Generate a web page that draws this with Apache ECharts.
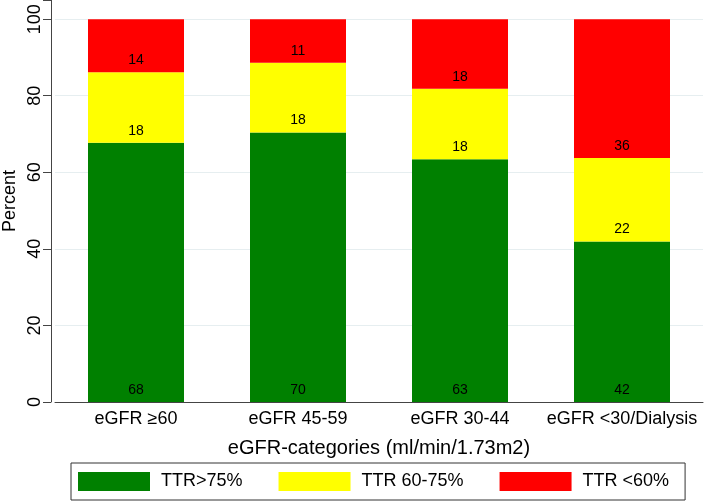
<!DOCTYPE html>
<html>
<head>
<meta charset="utf-8">
<script src="https://cdn.jsdelivr.net/npm/echarts@6/dist/echarts.min.js"></script>
<style>
html,body{margin:0;padding:0;background:#fff;}
#chart{width:709px;height:502px;}
</style>
</head>
<body>
<div id="chart"></div>
<script>
var categories = ['eGFR \u226560', 'eGFR 45-59', 'eGFR 30-44', 'eGFR <30/Dialysis'];
var seriesNames = ['TTR>75%', 'TTR 60-75%', 'TTR <60%'];
var ttrAbove75 = [67.7, 70.4, 63.4, 41.9];
var ttr60to75 = [18.4, 18.2, 18.4, 21.8];
var ttrBelow60 = [13.9, 11.4, 18.2, 36.3];
var yTickInterval = 20;
var yMaxLabel = 100;

var FONT = 'Liberation Sans, Arial, Helvetica, sans-serif';
var colors = ['#008000', '#ffff00', '#ff0000'];

function mkSeries(name, data, color) {
  return {
    name: name,
    type: 'bar',
    stack: 'ttr',
    data: data,
    barWidth: 96,
    itemStyle: { color: color },
    label: {
      show: true,
      position: 'insideBottom',
      distance: 5,
      color: '#000',
      fontFamily: FONT,
      fontSize: 14,
      formatter: function (p) { return Math.round(p.value); }
    },
    emphasis: { disabled: true }
  };
}

var chart = echarts.init(document.getElementById('chart'), null, { renderer: 'canvas' });
chart.setOption({
  animation: false,
  backgroundColor: '#fff',
  textStyle: { fontFamily: FONT },
  grid: { left: 55, right: 6, top: 0, bottom: 100, containLabel: false, outerBoundsMode: 'none' },
  legend: {
    left: 71,
    top: 463,
    orient: 'horizontal',
    icon: 'rect',
    itemWidth: 72,
    itemHeight: 19,
    itemGap: 36,
    padding: [9, 16, 9, 7],
    borderColor: '#333',
    borderWidth: 1,
    data: seriesNames,
    textStyle: { fontFamily: FONT, fontSize: 18, color: '#000', padding: [0, 0, 0, 6] }
  },
  xAxis: {
    type: 'category',
    data: categories,
    name: 'eGFR-categories (ml/min/1.73m2)',
    nameLocation: 'middle',
    nameGap: 36,
    nameMoveOverlap: false,
    nameTextStyle: { fontFamily: FONT, fontSize: 20, color: '#000' },
    axisLine: { show: true, lineStyle: { color: '#444', width: 1 } },
    axisTick: { show: false },
    axisLabel: { fontFamily: FONT, fontSize: 18, color: '#000', margin: 8, interval: 0 }
  },
  yAxis: {
    type: 'value',
    min: 0,
    max: 105,
    interval: yTickInterval,
    offset: 4,
    name: 'Percent',
    nameLocation: 'middle',
    nameRotate: 90,
    nameGap: 32,
    nameMoveOverlap: false,
    nameTextStyle: { fontFamily: FONT, fontSize: 18, color: '#000', align: 'center', verticalAlign: 'bottom' },
    axisLine: { show: true, lineStyle: { color: '#444', width: 1 } },
    axisTick: { show: true, inside: false, length: 8, lineStyle: { color: '#444' } },
    axisLabel: {
      fontFamily: FONT, fontSize: 18, color: '#000', rotate: 90, margin: 7,
      align: 'center', verticalAlign: 'bottom',
      formatter: function (v) { return v > yMaxLabel ? '' : String(v); }
    },
    splitLine: { show: true, showMaxLine: false, lineStyle: { color: '#e6eef0', width: 1 } }
  },
  series: [
    mkSeries(seriesNames[0], ttrAbove75, colors[0]),
    mkSeries(seriesNames[1], ttr60to75, colors[1]),
    mkSeries(seriesNames[2], ttrBelow60, colors[2])
  ]
});
</script>
</body>
</html>
